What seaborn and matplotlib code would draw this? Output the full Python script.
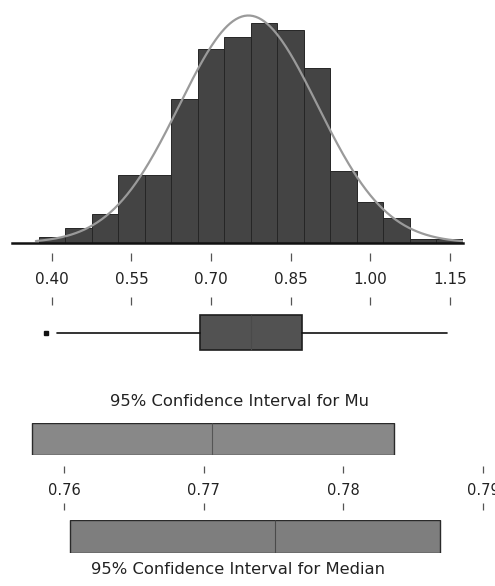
# Graphical summary: histogram + normal fit, boxplot, 95% CIs for mu and median
import numpy as np
import matplotlib.pyplot as plt
import matplotlib.transforms as mtransforms
import seaborn as sns

# ---------------------------------------------------------------
# Data
# ---------------------------------------------------------------
bin_centers = [0.40, 0.45, 0.50, 0.55, 0.60, 0.65, 0.70, 0.75,
               0.80, 0.85, 0.90, 0.95, 1.00, 1.05, 1.10, 1.15]
bin_counts = [4, 10, 20, 46, 46, 98, 132, 140,
              150, 145, 119, 49, 28, 17, 3, 3]
bin_width = 0.05

fit_mean = 0.7706
fit_sd = 0.130

hist_ticks = [0.40, 0.55, 0.70, 0.85, 1.00, 1.15]

box_q1, box_median, box_q3 = 0.679, 0.775, 0.871
whisker_lo, whisker_hi = 0.409, 1.144
outliers = [0.390]

mu_ci = [0.7577, 0.7836]
mu_hat = 0.7706
median_ci = [0.7604, 0.7869]
median_hat = 0.7751
ci_ticks = [0.76, 0.77, 0.78, 0.79]

# ---------------------------------------------------------------
# Layout helpers (pixel boxes -> figure fractions)
# ---------------------------------------------------------------
W, H = 495, 586
def px_box(x0, y0, x1, y1):
    return [x0 / W, 1 - y1 / H, (x1 - x0) / W, (y1 - y0) / H]

sns.set_theme(style="white")
plt.rcParams['font.family'] = ['DejaVu Sans']
fig = plt.figure(figsize=(W / 100, H / 100), dpi=100)
fig.patch.set_facecolor('white')

hist_xlim = (0.325, 1.175)
tick_color = '#555555'


def scale_axis(box, xlim, ticks, size, label_y=0.5, tick_len=0.16):
    # bare axis: short tick marks above and below the numbers
    ax = fig.add_axes(box)
    ax.set_zorder(10)
    ax.set_xlim(*xlim)
    ax.set_ylim(0, 1)
    ax.set_xticks([])
    ax.set_yticks([])
    for s in ax.spines.values():
        s.set_visible(False)
    ax.patch.set_alpha(0)
    tr = mtransforms.blended_transform_factory(ax.transData, ax.transAxes)
    ax.vlines(ticks, 1 - tick_len, 1, transform=tr, color=tick_color, lw=0.9, clip_on=False)
    ax.vlines(ticks, 0, tick_len, transform=tr, color=tick_color, lw=0.9, clip_on=False)
    for t in ticks:
        ax.text(t, label_y, f"{t:.2f}", transform=tr, ha='center', va='center',
                fontsize=size, color='#222222')
    return ax


# ---------------------------------------------------------------
# Histogram with normal curve
# ---------------------------------------------------------------
ax_hist = fig.add_axes(px_box(12, 14, 463, 243))
edges = [c - bin_width / 2 for c in bin_centers] + [bin_centers[-1] + bin_width / 2]
sns.histplot(x=bin_centers, weights=bin_counts, bins=edges, ax=ax_hist,
             color='#444444', edgecolor='#262626', linewidth=0.7, alpha=1)

n_total = sum(bin_counts)
xs = np.linspace(0.37, 1.175, 300)
ys = n_total * bin_width * np.exp(-0.5 * ((xs - fit_mean) / fit_sd) ** 2) / (fit_sd * np.sqrt(2 * np.pi))
sns.lineplot(x=xs, y=ys, ax=ax_hist, color='#9a9a9a', lw=1.6)

ax_hist.set_xlim(*hist_xlim)
ax_hist.set_ylim(0, 156)
ax_hist.set_xticks([])
ax_hist.set_yticks([])
ax_hist.set_xlabel("")
ax_hist.set_ylabel("")
for s in ['top', 'left', 'right']:
    ax_hist.spines[s].set_visible(False)
ax_hist.spines['bottom'].set_color('#111111')
ax_hist.spines['bottom'].set_linewidth(1.8)
ax_hist.patch.set_alpha(0)

# ---------- scale between histogram and boxplot ----------
scale_axis(px_box(12, 253, 463, 305), hist_xlim, hist_ticks, 11)

# ---------------------------------------------------------------
# Boxplot
# ---------------------------------------------------------------
ax_box = fig.add_axes(px_box(12, 305, 463, 360))
stats = [dict(med=box_median, q1=box_q1, q3=box_q3,
              whislo=whisker_lo, whishi=whisker_hi, fliers=outliers)]
ax_box.bxp(stats, positions=[0], widths=0.64, orientation='horizontal', patch_artist=True,
           showcaps=False,
           boxprops=dict(facecolor='#525252', edgecolor='#1e1e1e', linewidth=1.2),
           medianprops=dict(color='#4a4a4a', linewidth=0.8),
           whiskerprops=dict(color='#111111', linewidth=1.2),
           flierprops=dict(marker='s', markersize=3, markerfacecolor='#111111',
                           markeredgecolor='#111111'))
ax_box.set_xlim(*hist_xlim)
ax_box.set_ylim(-0.5, 0.5)
ax_box.axis('off')

# ---------------------------------------------------------------
# 95% confidence intervals
# ---------------------------------------------------------------
ci_px_per_unit = (483 - 64) / 0.03
ci_xlim = (0.76 - 64 / ci_px_per_unit, 0.76 + (W - 64) / ci_px_per_unit)

fig.text(239 / W, 1 - 402 / H, "95% Confidence Interval for Mu",
         ha='center', va='center', fontsize=11.8, color='#222222')

ax_mu = fig.add_axes(px_box(0, 423, W, 455))
ax_mu.barh([0], [mu_ci[1] - mu_ci[0]], left=[mu_ci[0]], height=1.0,
           color='#888888', edgecolor='#2a2a2a', linewidth=1.0)
ax_mu.vlines(mu_hat, -0.5, 0.5, color='#555555', linewidth=0.8)
ax_mu.set_xlim(*ci_xlim)
ax_mu.set_ylim(-0.5, 0.5)
ax_mu.axis('off')

scale_axis(px_box(0, 466, W, 510), ci_xlim, ci_ticks, 10.5, label_y=0.45)

ax_med = fig.add_axes(px_box(0, 520, W, 553))
ax_med.barh([0], [median_ci[1] - median_ci[0]], left=[median_ci[0]], height=1.0,
            color='#7e7e7e', edgecolor='#2a2a2a', linewidth=1.0)
ax_med.vlines(median_hat, -0.5, 0.5, color='#4a4a4a', linewidth=0.8)
ax_med.set_xlim(*ci_xlim)
ax_med.set_ylim(-0.5, 0.5)
ax_med.axis('off')

fig.text(238 / W, 1 - 570 / H, "95% Confidence Interval for Median",
         ha='center', va='center', fontsize=11.8, color='#222222')

fig.savefig("out.png", dpi=100)
